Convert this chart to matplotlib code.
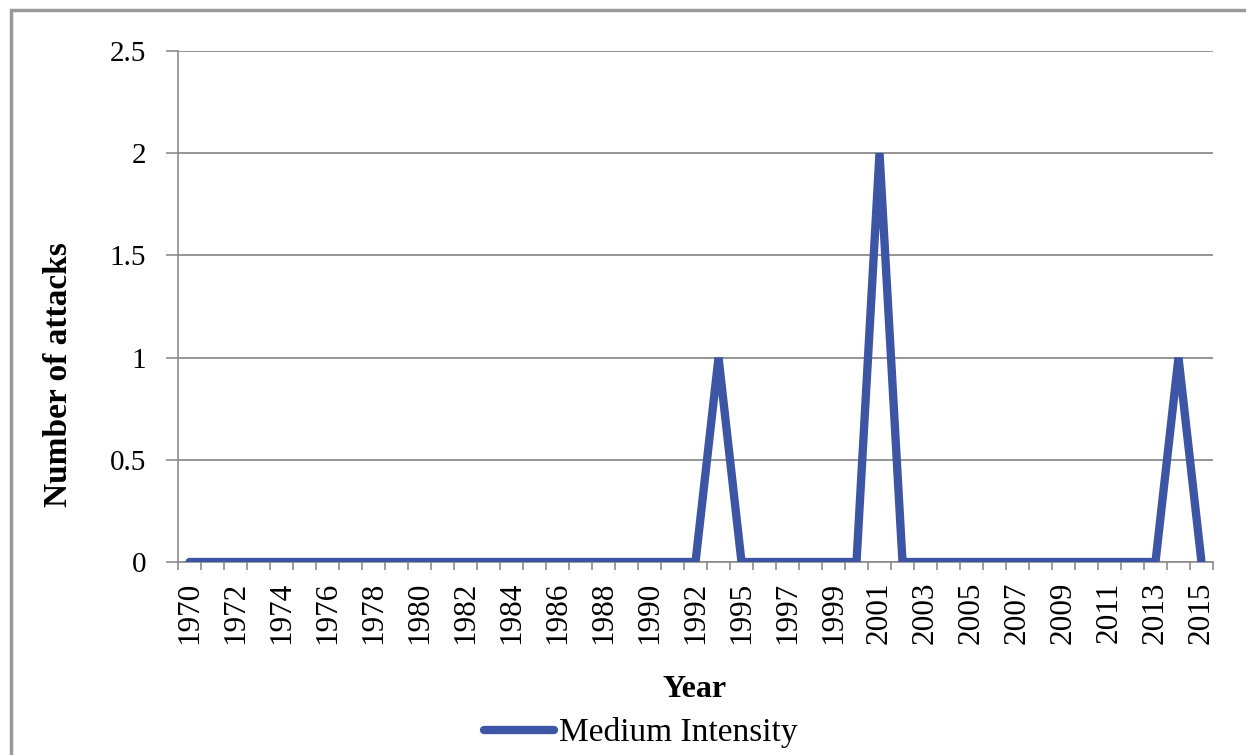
import matplotlib.pyplot as plt
from matplotlib.patches import Rectangle

# Yearly counts of medium intensity attacks (no 1993 entry in the source)
years = list(range(1970, 1993)) + list(range(1994, 2016))
attacks = [0] * len(years)
attacks[years.index(1994)] = 1
attacks[years.index(2001)] = 2
attacks[years.index(2014)] = 1

y_ticks = [0, 0.5, 1, 1.5, 2, 2.5]
y_tick_labels = ['0', '0.5', '1', '1.5', '2', '2.5']

plt.rcParams['font.family'] = ['Liberation Serif', 'DejaVu Serif']

fig = plt.figure(figsize=(12.46, 7.55), dpi=100)
ax = fig.add_axes([0.1429, 0.2556, 0.8306, 0.6769])

x = list(range(len(years)))
ax.plot(x, attacks, color='#3c55a5', linewidth=6, solid_capstyle='round',
        solid_joinstyle='miter', label='Medium Intensity', zorder=3)

ax.set_xlim(-0.5, len(years) - 0.5)
ax.set_ylim(0, 2.5)

# category boundary ticks, labels on every other year
ax.set_xticks([i - 0.5 for i in range(len(years) + 1)])
ax.set_xticklabels([])
ax.tick_params(axis='x', which='major', length=6, width=1.2, color='#8c8c8c', direction='out')
ax.set_xticks(x[::2], minor=True)
ax.set_xticklabels([str(y) for y in years[::2]], minor=True, rotation=90, fontsize=22.5)
ax.tick_params(axis='x', which='minor', length=0, pad=14)

ax.set_yticks(y_ticks)
ax.set_yticklabels(y_tick_labels, fontsize=21)
ax.tick_params(axis='y', length=9, width=1.2, color='#8c8c8c', pad=14)

ax.grid(axis='y', color='#8c8c8c', linewidth=1.3)
ax.set_axisbelow(True)
for side in ['top', 'right']:
    ax.spines[side].set_visible(False)
for side in ['left', 'bottom']:
    ax.spines[side].set_color('#8c8c8c')
    ax.spines[side].set_linewidth(1.2)

ax.set_ylabel('Number of attacks', fontsize=24, fontweight='bold')
ax.yaxis.set_label_coords(-0.101, 0.366)
ax.set_xlabel('Year', fontsize=23, fontweight='bold')
ax.xaxis.set_label_coords(0.4986, -0.2212)

fig.legend(loc='center', bbox_to_anchor=(641 / 1246, 1 - 733 / 755), frameon=False,
           fontsize=24, handlelength=2.1, handletextpad=0.15)

# outer chart border
fig.patches.append(Rectangle((0.0088, -0.1), 1.2, 0.1 + 0.9868, transform=fig.transFigure,
                             fill=False, edgecolor='#9a9a9a', linewidth=2.5))

fig.savefig('out.png', dpi=100)
